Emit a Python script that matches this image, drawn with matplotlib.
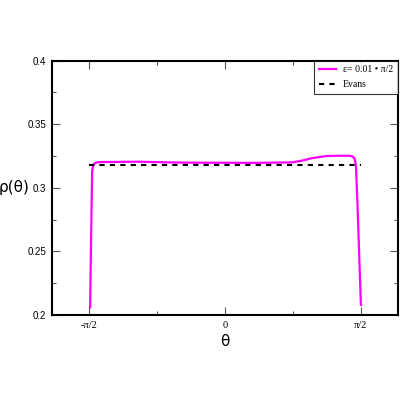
import numpy as np
import matplotlib
matplotlib.use("Agg")
import matplotlib.pyplot as plt
from matplotlib.ticker import FixedLocator

theta = [-1.559, -1.548, -1.536, -1.525, -1.51, -1.49, -1.45, -1.40, -1.3, -1.2, -1.0,
         -0.8, -0.5, -0.2, 0.0, 0.3, 0.6, 0.78, 0.9, 1.0, 1.1, 1.18, 1.3, 1.44,
         1.48, 1.50, 1.513, 1.53, 1.55, 1.571]
rho = [0.206, 0.26, 0.313, 0.3175, 0.319, 0.3198, 0.3202, 0.3203, 0.3203, 0.3204, 0.3205,
       0.3202, 0.3198, 0.3197, 0.3197, 0.3196, 0.3198, 0.3200, 0.3215, 0.3232, 0.3243, 0.3250, 0.3252, 0.3252,
       0.3245, 0.3225, 0.318, 0.29, 0.25, 0.208]
evans_theta = [-np.pi / 2, np.pi / 2]
evans_rho = [1 / np.pi, 1 / np.pi]

xticks = [-np.pi / 2, 0, np.pi / 2]
xticklabels = ["-π/2", "0", "π/2"]
yticks = [0.2, 0.25, 0.3, 0.35, 0.4]
yticklabels = ["0.2", "0.25", "0.3", "0.35", "0.4"]

fig = plt.figure(figsize=(4, 4), dpi=100)
ax = fig.add_axes([0.13, 0.2125, 0.865, 0.636])
ax.plot(theta, rho, color="#ff00ff", lw=1.6, label="ε= 0.01 • π/2")
ax.plot(evans_theta, evans_rho, color="black", lw=1.5, ls=(0, (2.5, 2.5)), label="Evans")
ax.set_xlim(-2, 2)
ax.set_ylim(0.2, 0.4)
ax.set_xticks(xticks)
ax.set_xticklabels(xticklabels, family="Liberation Serif", fontsize=7.5)
ax.set_yticks(yticks)
ax.set_yticklabels(yticklabels, family="Liberation Sans", fontsize=7)
ax.xaxis.set_minor_locator(FixedLocator([-np.pi / 4, np.pi / 4]))
ax.yaxis.set_minor_locator(FixedLocator([0.225, 0.275, 0.325, 0.375]))
ax.tick_params(which="both", direction="in", top=True, right=True, color="#555555", width=0.8)
ax.tick_params(which="major", length=6, pad=4)
ax.tick_params(which="minor", length=3)
for s in ax.spines.values():
    s.set_linewidth(1.5)
ax.set_xlabel("θ", fontsize=11, family="DejaVu Sans", labelpad=3)
ax.set_ylabel("ρ(θ)", fontsize=11, family="DejaVu Sans", rotation=0, labelpad=4, va="center")
ax.yaxis.set_label_coords(-0.11, 0.5)
leg = ax.legend(loc="upper right", prop={"family": "Liberation Serif", "size": 7},
                frameon=True, fancybox=False, borderaxespad=0, handlelength=1.8,
                borderpad=0.5, labelspacing=0.6, handletextpad=0.7)
leg.get_frame().set_edgecolor("black")
leg.get_frame().set_linewidth(0.8)
fig.savefig("out.png", dpi=100)
